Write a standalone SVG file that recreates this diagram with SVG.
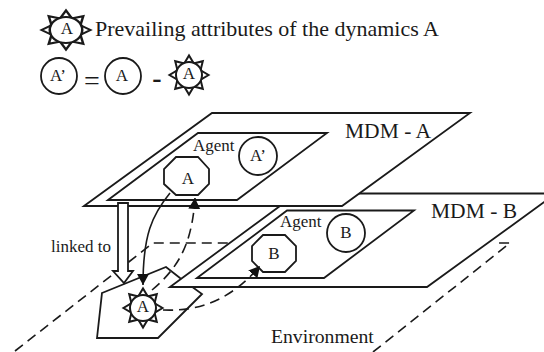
<svg xmlns="http://www.w3.org/2000/svg" xmlns:xlink="http://www.w3.org/1999/xlink" width="544" height="352" viewBox="0 0 544 352">
<style>
text{font-family:"Liberation Serif","Times New Roman",serif;fill:#1a1a1a;font-size:17px}
.m{text-anchor:middle}
.big{font-size:21.500px}
.s{fill:#fff;stroke:#1a1a1a;stroke-width:1.800;stroke-linejoin:miter}
.c{fill:none;stroke:#1a1a1a;stroke-width:1.600}
.d{stroke-dasharray:10 6}
</style>
<defs>
<marker id="ah" markerUnits="userSpaceOnUse" markerWidth="14" markerHeight="14" refX="11" refY="6" orient="auto"><path d="M0 0L11 6L0 12Z" fill="#111"/></marker>
<g id="sp"><path d="M-4.500 -12L0 -19.500L4.500 -12Z"/></g>
<g id="sun" class="s" style="stroke-width:2">
<use xlink:href="#sp"/><use xlink:href="#sp" transform="rotate(45)"/><use xlink:href="#sp" transform="rotate(90)"/><use xlink:href="#sp" transform="rotate(135)"/><use xlink:href="#sp" transform="rotate(180)"/><use xlink:href="#sp" transform="rotate(225)"/><use xlink:href="#sp" transform="rotate(270)"/><use xlink:href="#sp" transform="rotate(315)"/>
<circle r="13"/>
</g>
</defs>
<rect width="544" height="352" fill="#fff"/>
<g id="environment">
<path class="c d" d="M15 351L153 243H232"/>
<path class="c d" d="M373 352L510 243H496"/>
<path class="s" d="M102 293L166 267L180 278L202 294L158 338H97Z"/>
<text x="271" y="343" style="font-size:19.700px">Environment</text>
</g>
<g id="mdm-b">
<path class="s" d="M170 287L297 193.500H556L427 287Z"/>
<text class="big" x="431" y="218">MDM - B</text>
<path class="s" d="M197 278L287 210.500H414L324 278Z"/>
<text x="280" y="227">Agent</text>
</g>
<g id="mdm-a">
<path class="s" d="M84 206L212 113H470L342 206Z"/>
<text class="big" x="345" y="138">MDM - A</text>
<path class="s" d="M108 200L198 133H327L237 200Z"/>
<text x="193" y="151">Agent</text>
</g>
<g id="node-a-prime"><circle class="s" cx="258" cy="156" r="19"/><text class="m" x="258" y="161">A’</text></g>
<g id="node-a"><path class="s" d="M176 157H198L209 169V184L198 195H176L164 184V169Z"/><text class="m" x="188" y="184">A</text></g>
<g id="node-b-prime"><circle class="s" cx="346" cy="233" r="19"/><text class="m" x="346" y="238">B</text></g>
<g id="node-b"><path class="s" d="M263 235H285L296 246V261L285 272H263L252 261V246Z"/><text class="m" x="274" y="259">B</text></g>
<g id="node-sun-a"><use xlink:href="#sun" transform="translate(143 308)"/><text class="m" x="143" y="312">A</text></g>
<g id="legend">
<use xlink:href="#sun" transform="translate(66 30) scale(1.25 1)"/>
<text class="m" x="67" y="34">A</text>
<text x="95" y="36" style="font-size:22px">Prevailing attributes of the dynamics A</text>
<circle class="s" cx="59" cy="76" r="18"/><text class="m" x="58" y="81">A’</text>
<text class="m" x="92" y="90" style="font-size:28px">=</text>
<circle class="s" cx="123" cy="76" r="18"/><text class="m" x="122" y="81">A</text>
<text class="m" x="157" y="87" style="font-size:28px;font-weight:bold">-</text>
<use xlink:href="#sun" transform="translate(189 75)"/><text class="m" x="189" y="79">A</text>
</g>
<g id="connectors">
<path class="s" d="M118 203H128V271H133L124 283L113 271H118Z"/>
<text id="linked-label" x="51" y="252">linked to</text>
<path class="c" marker-end="url(#ah)" d="M170 193C152 215 143 235 143 285"/>
<path class="c d" marker-end="url(#ah)" d="M152 290C178 268 192 245 195 198"/>
<path class="c d" marker-end="url(#ah)" d="M163 310C205 312 235 295 260 266"/>
</g>
</svg>
